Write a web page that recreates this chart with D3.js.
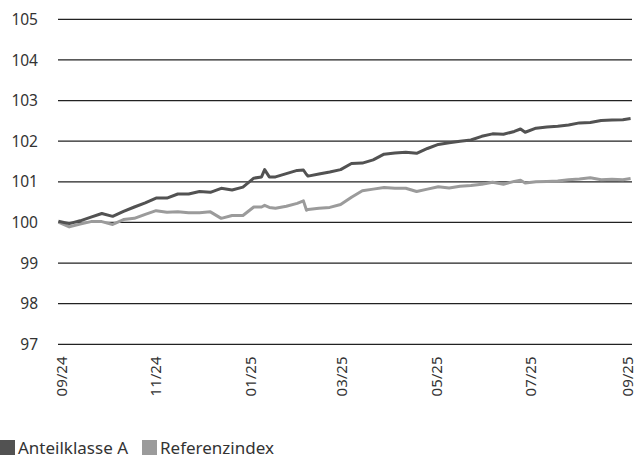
<!DOCTYPE html>
<html>
<head>
<meta charset="utf-8">
<script src="https://cdn.jsdelivr.net/npm/d3@7"></script>
<style>
  body { margin: 0; background: #fff; }
  svg text { font-family: "Noto Sans", "Open Sans", sans-serif; fill: #333; }
</style>
</head>
<body>
<svg id="svg" width="636" height="457"></svg>
<script>
// data
var dates = [
  "2024-08-30","2024-09-06","2024-09-13","2024-09-20","2024-09-27","2024-10-04","2024-10-11",
  "2024-10-18","2024-10-25","2024-11-01","2024-11-08","2024-11-15","2024-11-22","2024-11-29",
  "2024-12-06","2024-12-13","2024-12-20","2024-12-27","2025-01-03","2025-01-08","2025-01-10",
  "2025-01-13","2025-01-17","2025-01-24","2025-01-31","2025-02-04","2025-02-06","2025-02-07",
  "2025-02-14","2025-02-21","2025-02-28","2025-03-07","2025-03-14","2025-03-21","2025-03-28",
  "2025-04-04","2025-04-11","2025-04-18","2025-04-25","2025-05-02","2025-05-09","2025-05-16",
  "2025-05-23","2025-05-30","2025-06-06","2025-06-13","2025-06-20","2025-06-24","2025-06-27",
  "2025-07-04","2025-07-11","2025-07-18","2025-07-25","2025-08-01","2025-08-08","2025-08-15",
  "2025-08-22","2025-08-29","2025-09-03"
];
var anteil = [
  100.03, 99.97, 100.04, 100.13, 100.22, 100.15, 100.27,
  100.38, 100.48, 100.60, 100.60, 100.70, 100.70, 100.76,
  100.74, 100.84, 100.80, 100.87, 101.09, 101.12, 101.30,
  101.12, 101.12, 101.20, 101.28, 101.29, 101.18, 101.14,
  101.19, 101.24, 101.30, 101.45, 101.46, 101.54, 101.68,
  101.71, 101.73, 101.70, 101.82, 101.92, 101.96, 102.00,
  102.03, 102.12, 102.18, 102.17, 102.24, 102.30, 102.22,
  102.32, 102.35, 102.37, 102.40, 102.45, 102.46, 102.51,
  102.52, 102.53, 102.56
];
var referenz = [
  100.01, 99.89, 99.96, 100.02, 100.02, 99.95, 100.07,
  100.10, 100.20, 100.29, 100.25, 100.26, 100.24, 100.24,
  100.26, 100.10, 100.17, 100.17, 100.38, 100.38, 100.42,
  100.37, 100.35, 100.40, 100.47, 100.53, 100.30, 100.32,
  100.35, 100.37, 100.44, 100.62, 100.78, 100.82, 100.86,
  100.84, 100.84, 100.76, 100.82, 100.88, 100.85, 100.89,
  100.91, 100.94, 100.99, 100.94, 101.01, 101.04, 100.97,
  101.00, 101.01, 101.02, 101.05, 101.07, 101.10, 101.05,
  101.06, 101.05, 101.08
];
var yTicks = [97, 98, 99, 100, 101, 102, 103, 104, 105];
var xTicks = ["2024-09-01","2024-11-01","2025-01-01","2025-03-01","2025-05-01","2025-07-01","2025-09-01"];
var seriesNames = ["Anteilklasse A", "Referenzindex"];
var seriesColors = ["#525252", "#9b9b9b"];

var svg = d3.select("#svg");
var parse = d3.timeParse("%Y-%m-%d");

var x = d3.scaleTime()
    .domain([parse("2024-09-01"), parse("2025-09-01")])
    .range([61.5, 627.5]);

var y = d3.scaleLinear().domain([97, 105]).range([344.3, 19.3]);

// horizontal grid + y labels
var grid = svg.append("g").attr("class", "grid");
grid.selectAll("line")
    .data(yTicks)
    .enter()
    .append("line")
    .attr("x1", 58)
    .attr("x2", 632)
    .attr("y1", d => y(d))
    .attr("y2", d => y(d))
    .attr("stroke", "#222")
    .attr("stroke-width", 1.2);

grid.selectAll("text")
    .data(yTicks)
    .enter()
    .append("text")
    .attr("x", 38)
    .attr("y", d => y(d))
    .attr("dy", "0.36em")
    .attr("text-anchor", "end")
    .style("font-size", "15.5px")
    .text(d => d);

// x labels, rotated
svg.append("g")
    .selectAll("text")
    .data(xTicks.map(parse))
    .enter()
    .append("text")
    .attr("transform", d => "translate(" + x(d) + ",356.5) rotate(-90)")
    .attr("dy", "0.34em")
    .attr("text-anchor", "end")
    .style("font-size", "15px")
    .text(d3.timeFormat("%m/%y"));

// lines
var line = d3.line()
    .x((d, i) => x(parse(dates[i])))
    .y(d => y(d));

[referenz, anteil].forEach((vals, j) => {
    svg.append("path")
        .datum(vals)
        .attr("fill", "none")
        .attr("stroke", j === 0 ? seriesColors[1] : seriesColors[0])
        .attr("stroke-width", 3)
        .attr("stroke-linejoin", "round")
        .attr("d", line);
});

// legend
var legend = svg.append("g").attr("transform", "translate(0, 440)");
var items = legend.selectAll("g")
    .data(seriesNames)
    .enter()
    .append("g")
    .attr("transform", (d, i) => "translate(" + (i * 142) + ",0)");

items.append("rect")
    .attr("width", 15)
    .attr("height", 15)
    .attr("fill", (d, i) => seriesColors[i]);

items.append("text")
    .attr("x", 18)
    .attr("y", 13.5)
    .style("font-size", "17px")
    .text(d => d);
</script>
</body>
</html>
